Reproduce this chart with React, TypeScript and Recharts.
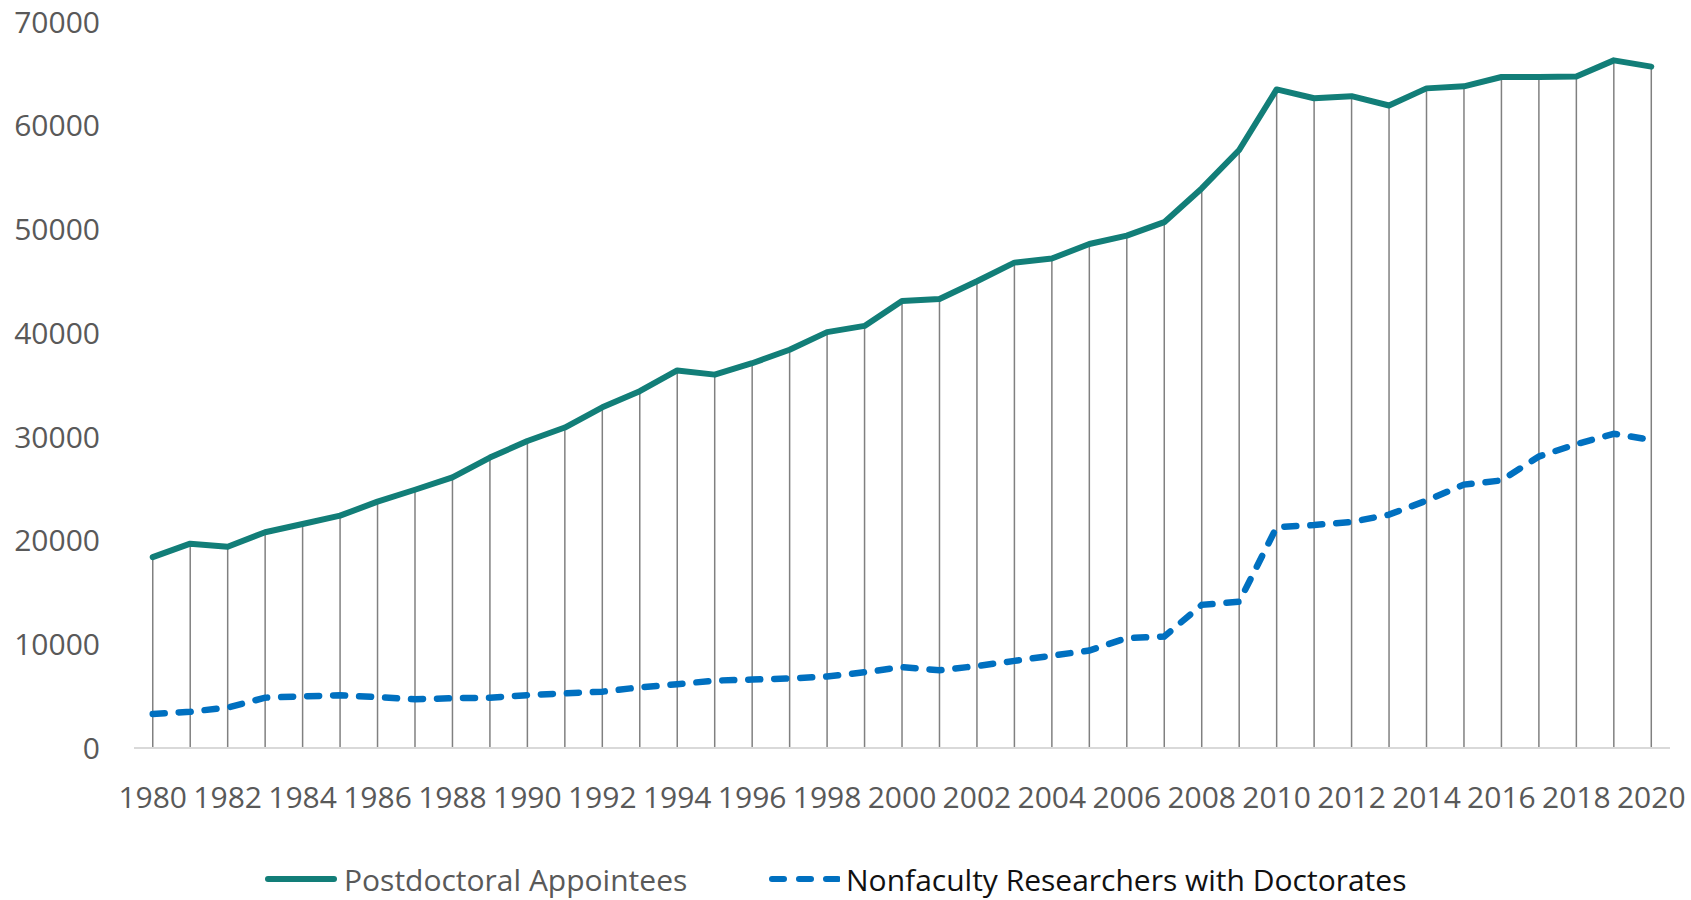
import React from "react";
import { ComposedChart, Bar, Line, XAxis, YAxis, Legend } from "recharts";

const years = [
  "1980", "1981", "1982", "1983", "1984", "1985", "1986", "1987", "1988", "1989",
  "1990", "1991", "1992", "1993", "1994", "1995", "1996", "1997", "1998", "1999",
  "2000", "2001", "2002", "2003", "2004", "2005", "2006", "2007", "2008", "2009",
  "2010", "2011", "2012", "2013", "2014", "2015", "2016", "2017", "2018", "2019",
  "2020",
];

// Postdoctoral appointees
const postdoc = [
  18400, 19700, 19400, 20800, 21600, 22400, 23750, 24900, 26100, 28000,
  29600, 30900, 32850, 34400, 36400, 36000, 37100, 38400, 40100, 40700,
  43100, 43300, 45000, 46800, 47200, 48600, 49400, 50700, 53950, 57660,
  63500, 62650, 62850, 61950, 63600, 63800, 64700, 64700, 64750, 66300,
  65700,
];

// Nonfaculty researchers with doctorates
const nonfaculty = [
  3280, 3500, 3900, 4850, 4980, 5080, 4900, 4700, 4800, 4850,
  5100, 5270, 5430, 5850, 6150, 6500, 6600, 6700, 6900, 7300,
  7800, 7500, 7900, 8400, 8900, 9400, 10600, 10750, 13800, 14100,
  21300, 21500, 21800, 22500, 23850, 25400, 25800, 28100, 29300, 30300,
  29700,
];

const yTicks = [0, 10000, 20000, 30000, 40000, 50000, 60000, 70000];

const TEAL = "#127E78";
const BLUE = "#0070C0";
const FONT = "'Open Sans', 'Segoe UI', sans-serif";

const data = years.map((year, i) => ({
  year,
  postdoc: postdoc[i],
  nonfaculty: nonfaculty[i],
}));

const LegendContent = () => (
  <div style={{ position: "relative", width: 1691, height: 36, fontFamily: FONT, fontSize: 30 }}>
    <div style={{ position: "absolute", left: 265, top: -3, display: "flex", alignItems: "center", height: 36 }}>
      <svg width={72} height={12} style={{ marginRight: 7 }}>
        <line x1={3} y1={6} x2={69} y2={6} stroke={TEAL} strokeWidth={6} strokeLinecap="round" />
      </svg>
      <span style={{ color: "#595959", whiteSpace: "nowrap" }}>Postdoctoral Appointees</span>
    </div>
    <div style={{ position: "absolute", left: 768, top: -3, display: "flex", alignItems: "center", height: 36 }}>
      <svg width={72} height={12} style={{ marginRight: 6 }}>
        <line x1={4} y1={6} x2={70} y2={6} stroke={BLUE} strokeWidth={6} strokeLinecap="round" strokeDasharray="12 15" />
      </svg>
      <span style={{ color: "#111111", whiteSpace: "nowrap" }}>Nonfaculty Researchers with Doctorates</span>
    </div>
  </div>
);

export default function App() {
  return (
    <div style={{ position: "absolute", left: 0, top: 0, width: 1691, height: 900, background: "#fff" }}>
      <ComposedChart
        width={1691}
        height={900}
        data={data}
        margin={{ top: 22, right: 21, left: 0, bottom: 0 }}
      >
        <XAxis
          dataKey="year"
          height={116}
          interval={1}
          tickSize={0}
          tickMargin={39}
          axisLine={{ stroke: "#d9d9d9", strokeWidth: 2 }}
          tickLine={false}
          tick={{ fill: "#595959", fontSize: 30, fontFamily: FONT }}
        />
        <YAxis
          width={134}
          domain={[0, 70000]}
          ticks={yTicks}
          axisLine={false}
          tickLine={false}
          tickSize={0}
          tickMargin={34}
          tick={{ fill: "#595959", fontSize: 30, fontFamily: FONT }}
        />
        <Legend verticalAlign="bottom" content={<LegendContent />} />
        {/* drop lines from each postdoc point */}
        <Bar dataKey="postdoc" barSize={1.5} fill="#808080" isAnimationActive={false} legendType="none" />
        <Line
          type="linear"
          dataKey="nonfaculty"
          stroke={BLUE}
          strokeWidth={6.5}
          strokeDasharray="12 14"
          strokeLinecap="round"
          dot={false}
          isAnimationActive={false}
        />
        <Line
          type="linear"
          dataKey="postdoc"
          stroke={TEAL}
          strokeWidth={6}
          strokeLinecap="round"
          strokeLinejoin="round"
          dot={false}
          isAnimationActive={false}
        />
      </ComposedChart>
    </div>
  );
}
